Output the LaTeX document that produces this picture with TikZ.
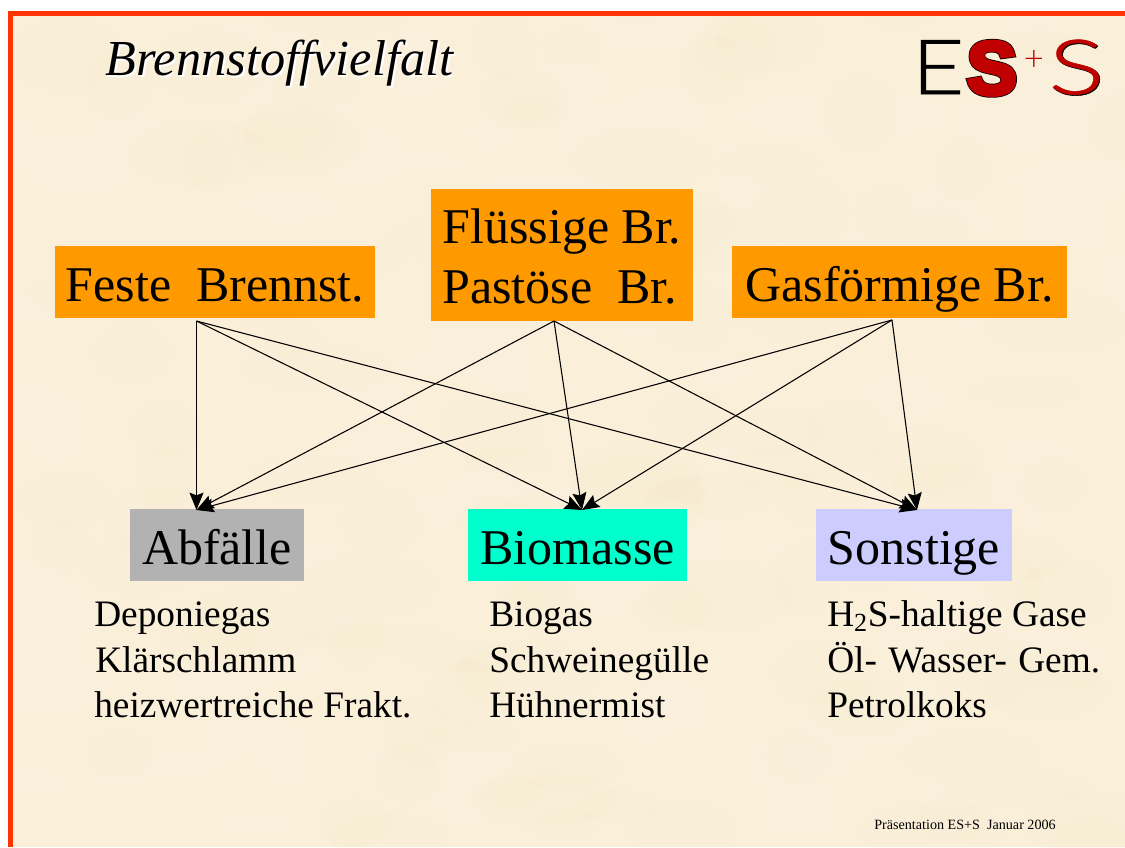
\documentclass[tikz,border=0pt]{standalone}
\usepackage{fontspec}
\usepackage{tikz}
\usetikzlibrary{arrows.meta}
\setmainfont{Liberation Serif}
\newfontfamily\logofont[FakeStretch=1.2,FakeBold=0.8]{Lato Light}
\newfontfamily\logowide[FakeStretch=1.38,FakeBold=0.7]{Lato Light}
\newfontfamily\logoplain{Lato Light}
\newfontfamily\logofat[FakeBold=6]{Liberation Sans Bold}
\newfontfamily\logofatter[FakeBold=8]{Liberation Sans Bold}
\definecolor{paper}{HTML}{FAEFD9}
\definecolor{paperlight}{HTML}{FDF5E4}
\definecolor{paperdark}{HTML}{F6E8CC}
\definecolor{rim}{HTML}{FF3300}
\definecolor{fuel}{HTML}{FF9900}
\definecolor{waste}{HTML}{B2B2B2}
\definecolor{biom}{HTML}{00FFCC}
\definecolor{other}{HTML}{CCCCFF}
\definecolor{logored}{HTML}{C00000}
\tikzset{
  boxtext/.style={inner sep=0pt,font=\fontsize{37.5}{45}\selectfont},
  oneline/.style={boxtext,text height=31pt,text depth=2pt},
  listtext/.style={inner sep=0pt,anchor=base west,font=\fontsize{28}{34}\selectfont},
  link/.style={-{Stealth[length=13pt,width=10.5pt,inset=2pt]},line width=0.8pt,black}
}
\begin{document}
\begin{tikzpicture}[x=0.75pt,y=-0.75pt]
  \useasboundingbox (0,0) rectangle (1125,847);
  \fill [white] (0,0) rectangle (1125,847);
  \fill [paper] (8,11) rectangle (1125,847);
  % mottled paper
  \begin{scope}
    \clip (8,11) rectangle (1125,847);
    \pgfmathsetseed{41}
    \foreach \i in {1,...,110} {
      \fill [paperlight,opacity=0.15] (rnd*1125,rnd*847) ellipse ({25+rnd*50} and {12+rnd*25});
      \fill [paperdark,opacity=0.12] (rnd*1125,rnd*847) ellipse ({25+rnd*50} and {12+rnd*25});
    }
  \end{scope}
  \fill [rim] (8,11) rectangle (1125,16);
  \fill [rim] (8,11) rectangle (13,847);

  % title and logo
  \node (titleback) [inner sep=0pt,anchor=base west,white,font=\fontsize{37.8}{44}\selectfont\itshape] at (107,77) {Brennstoffvielfalt};
  \node (title) [inner sep=0pt,anchor=base west,font=\fontsize{37.8}{44}\selectfont\itshape] at (105,75) {Brennstoffvielfalt};
  \node (logoe) [inner sep=0pt,anchor=base,font=\fontsize{57}{60}\logofont] at (938,94) {E};
  \node (logofatback) [inner sep=0pt,anchor=base,font=\fontsize{56}{60}\logofatter] at (992,94) {S};
  \node (logofat) [inner sep=0pt,anchor=base,logored,font=\fontsize{56}{60}\logofat] at (992,94) {S};
  \node (logoplus) [inner sep=0pt,logored,font=\fontsize{26}{28}\logoplain] at (1034,60) {+};
  \node (logosback) [inner sep=0pt,anchor=base,font=\fontsize{57}{60}\logowide] at (1077.5,95) {S};
  \node (logos) [inner sep=0pt,anchor=base,logored,font=\fontsize{57}{60}\logowide] at (1076.5,94) {S};

  % upper boxes
  \node (fest) [oneline,fill=fuel,minimum width=240pt,minimum height=54pt] at (215,282) {Feste\ \ Brennst.};
  \node (flus) [boxtext,fill=fuel,align=left,minimum width=196.5pt,minimum height=99pt] at (562,255) {\rule{0pt}{28.6pt}Flüssige Br.\\Pastöse\ \ Br.};
  \node (gas) [oneline,fill=fuel,minimum width=251.25pt,minimum height=54pt] at (899.5,282) {Gasförmige Br.};

  % lower boxes
  \node (abf) [oneline,fill=waste,minimum width=130.5pt,minimum height=54pt] at (217,545) {Abfälle};
  \node (bio) [oneline,fill=biom,minimum width=164.25pt,minimum height=54pt] at (577.5,545) {Biomasse};
  \node (sons) [oneline,fill=other,minimum width=147pt,minimum height=54pt] at (914,545) {Sonstige};

  \coordinate (festout) at (196.5,321);
  \coordinate (flusout) at (554,321);
  \coordinate (gasout) at (892,320);
  \coordinate (abfin) at (196.5,510);
  \coordinate (bioin) at (582,510);
  \coordinate (sonsin) at (917,510);

  \draw [link] (festout) to (abfin);
  \draw [link] (festout) to (bioin);
  \draw [link] (festout) to (sonsin);
  \draw [link] (flusout) to (abfin);
  \draw [link] (flusout) to (bioin);
  \draw [link] (flusout) to (sonsin);
  \draw [link] (gasout) to (abfin);
  \draw [link] (gasout) to (bioin);
  \draw [link] (gasout) to (sonsin);

  % lists under the boxes
  \node (dep) [listtext] at (94,626) {Deponiegas};
  \node (kla) [listtext] at (95,672) {Klärschlamm};
  \node (hei) [listtext] at (94,717) {heizwertreiche Frakt.};
  \node (bgas) [listtext] at (489,626) {Biogas};
  \node (sch) [listtext] at (489,672) {Schweinegülle};
  \node (hue) [listtext] at (489,717) {Hühnermist};
  \node (hzs) [listtext] at (827,626) {H\textsubscript{2}S-haltige Gase};
  \node (oel) [listtext] at (827,672) {Öl- \hspace{1.5pt}Wasser- \hspace{1.5pt}Gem.};
  \node (pet) [listtext] at (827,717) {Petrolkoks};

  \node (foot) [inner sep=0pt,anchor=base west,font=\fontsize{10.6}{12}\selectfont] at (874,829) {Präsentation ES+S\ \ Januar 2006};
\end{tikzpicture}
\end{document}
